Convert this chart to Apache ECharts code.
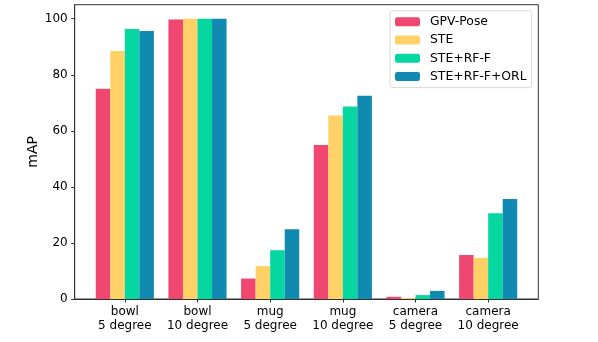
<!DOCTYPE html>
<html>
<head>
<meta charset="utf-8">
<script src="https://cdn.jsdelivr.net/npm/echarts@6/dist/echarts.min.js"></script>
<style>
  html, body { margin: 0; padding: 0; background: #fff; }
  #chart { width: 598px; height: 342px; }
</style>
</head>
<body>
<div id="chart"></div>
<script>
const categories = ['bowl\n5 degree', 'bowl\n10 degree', 'mug\n5 degree', 'mug\n10 degree', 'camera\n5 degree', 'camera\n10 degree']
const gpvPose = [75.0, 99.7, 7.3, 54.9, 0.8, 15.7]
const ste = [88.5, 100.0, 11.8, 65.5, 0.4, 14.7]
const steRfF = [96.3, 100.0, 17.4, 68.7, 1.4, 30.6]
const steRfFOrl = [95.6, 100.0, 24.9, 72.5, 2.9, 35.7]
const yTicks = [0, 20, 40, 60, 80, 100]

const font = 'DejaVu Sans'
const axisColor = '#333'
const xPositions = categories.map((c, i) => i)

const makeSeries = (name, values, color) => ({
  name: name,
  type: 'bar',
  barGap: '0%',
  barCategoryGap: '20%',
  itemStyle: { color: color },
  data: values.map((v, i) => [i, v]),
  animation: false
})

const chart = echarts.init(document.getElementById('chart'))
chart.setOption({
  animation: false,
  textStyle: { fontFamily: font },
  grid: {
    left: 74.7,
    right: 59.7,
    top: 4.7,
    bottom: 43,
    show: true,
    borderColor: axisColor,
    borderWidth: 1,
    backgroundColor: 'transparent'
  },
  legend: {
    orient: 'vertical',
    left: 390,
    top: 10.7,
    padding: [4, 5, 4, 5],
    itemWidth: 25,
    itemHeight: 9,
    itemGap: 4.3,
    borderColor: '#d9d9d9',
    borderWidth: 1,
    borderRadius: 3,
    backgroundColor: 'rgba(255,255,255,0.8)',
    textStyle: {
      fontFamily: font,
      fontSize: 12.4,
      color: '#000',
      lineHeight: 14,
      padding: [0, 0, 0, 5]
    },
    data: ['GPV-Pose', 'STE', 'STE+RF-F', 'STE+RF-F+ORL']
  },
  xAxis: {
    type: 'value',
    min: -0.69,
    max: 5.69,
    splitLine: { show: false },
    axisLine: { show: true, onZero: false, lineStyle: { color: axisColor, width: 1 } },
    axisTick: {
      show: true,
      inside: false,
      length: 3.5,
      customValues: xPositions,
      lineStyle: { color: axisColor }
    },
    axisLabel: {
      customValues: xPositions,
      formatter: v => categories[Math.round(v)],
      fontFamily: font,
      fontSize: 12,
      lineHeight: 14,
      color: '#000',
      margin: 6
    }
  },
  yAxis: {
    type: 'value',
    min: 0,
    max: 105,
    name: 'mAP',
    nameLocation: 'middle',
    nameGap: 34,
    nameMoveOverlap: false,
    nameTextStyle: { fontFamily: font, fontSize: 14, color: '#000' },
    splitLine: { show: false },
    axisLine: { show: true, onZero: false, lineStyle: { color: axisColor, width: 1 } },
    axisTick: {
      show: true,
      inside: false,
      length: 3.5,
      customValues: yTicks,
      lineStyle: { color: axisColor }
    },
    axisLabel: {
      customValues: yTicks,
      fontFamily: font,
      fontSize: 12,
      color: '#000',
      margin: 7
    }
  },
  series: [
    makeSeries('GPV-Pose', gpvPose, '#EF476F'),
    makeSeries('STE', ste, '#FFD166'),
    makeSeries('STE+RF-F', steRfF, '#06D6A0'),
    makeSeries('STE+RF-F+ORL', steRfFOrl, '#118AB2')
  ]
})
</script>
</body>
</html>
